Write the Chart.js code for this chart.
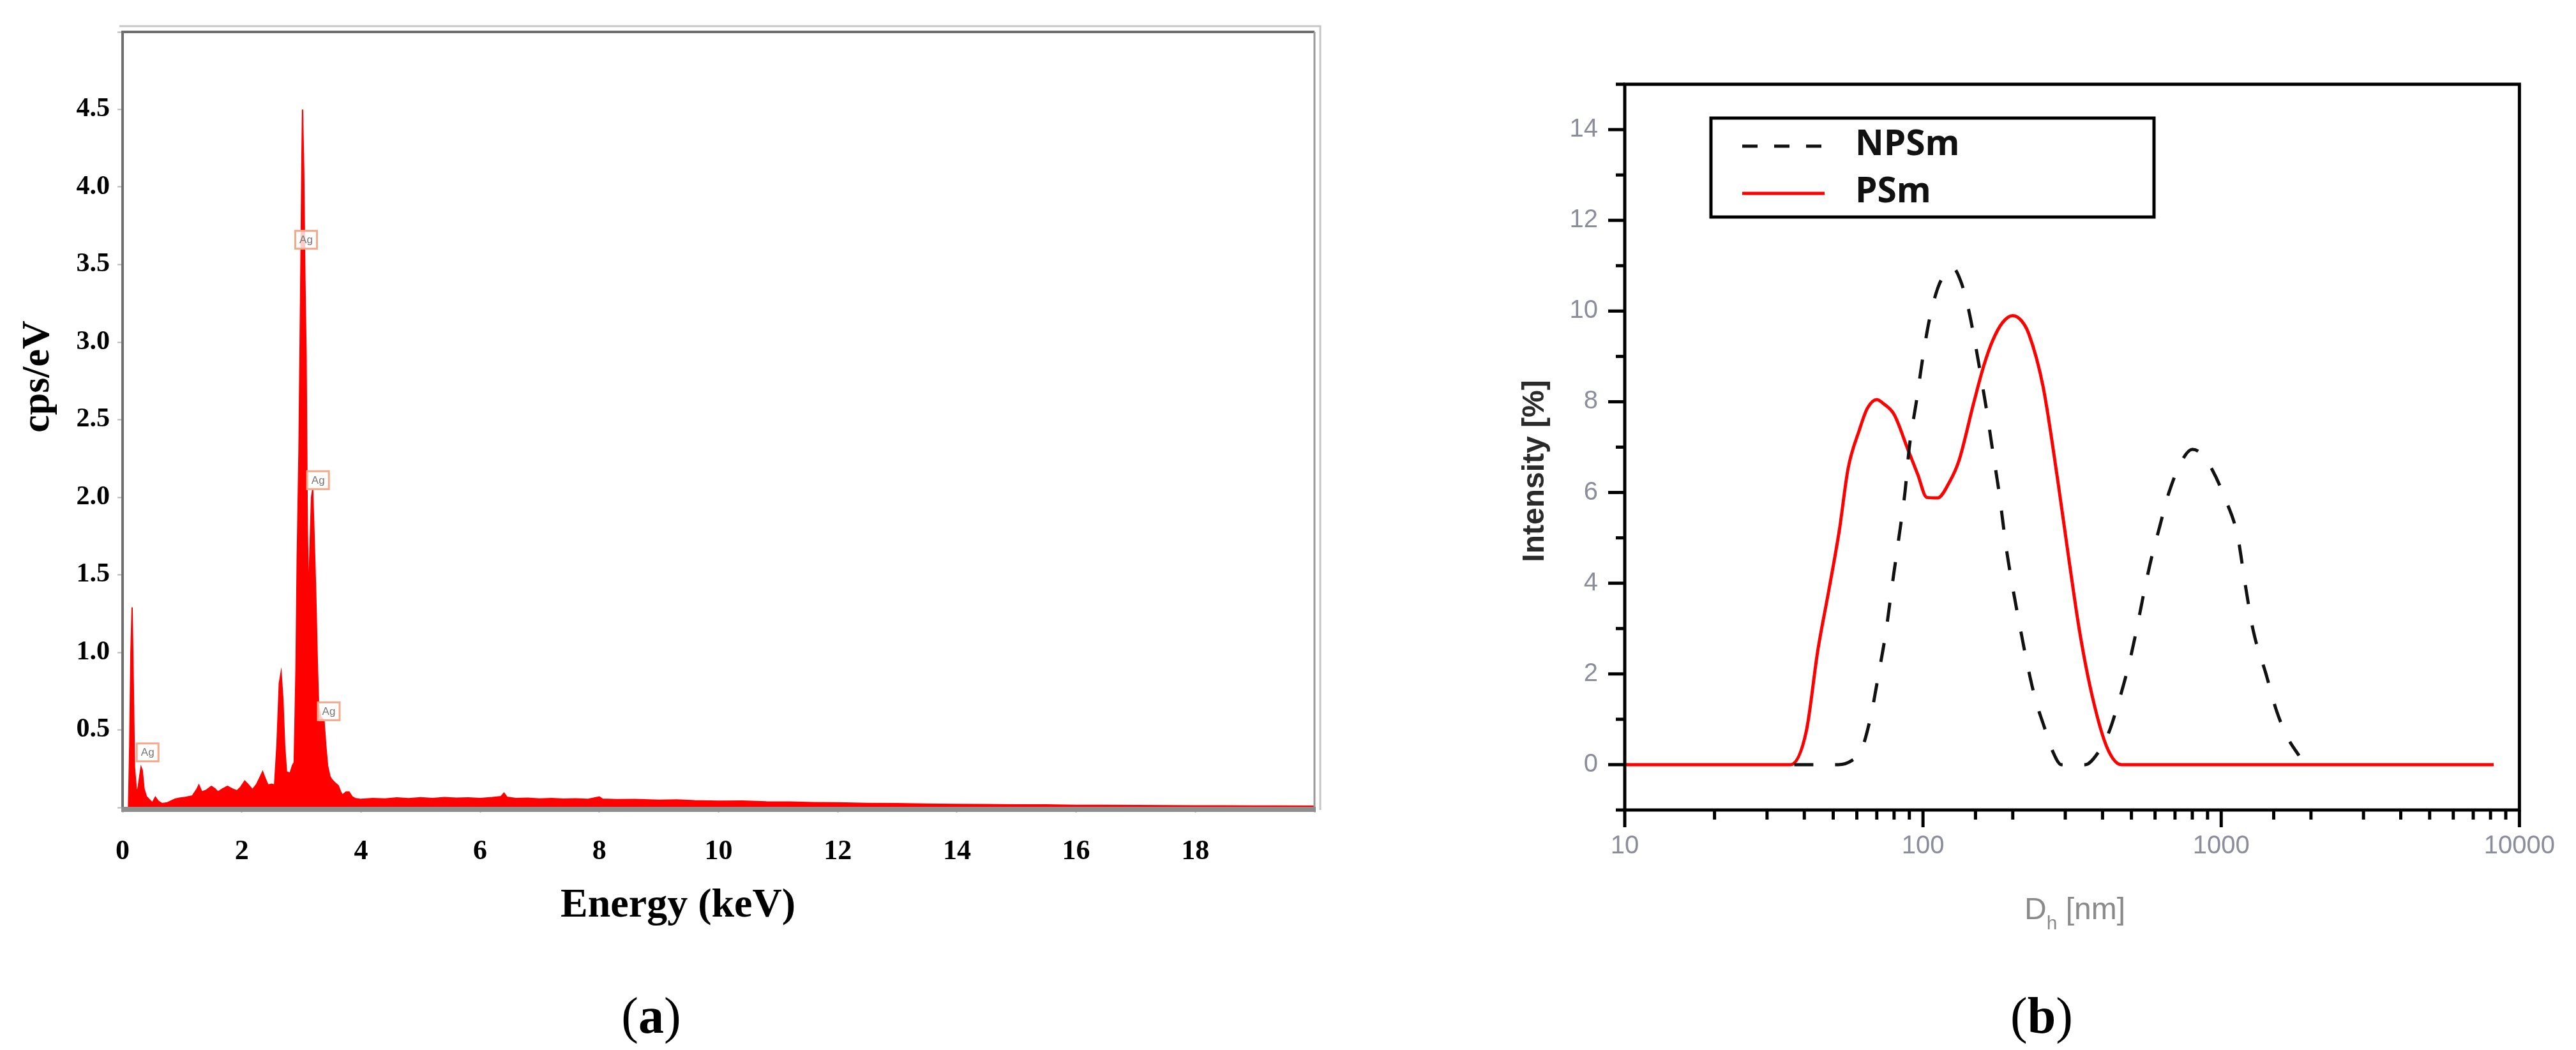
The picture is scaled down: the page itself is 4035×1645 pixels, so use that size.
<!DOCTYPE html>
<html>
<head>
<meta charset="utf-8">
<script src="https://cdn.jsdelivr.net/npm/chart.js@4.4.1/dist/chart.umd.min.js"></script>
<style>
  html, body { margin: 0; padding: 0; background: #fff; }
  body { width: 4035px; height: 1645px; position: relative; overflow: hidden; }
  #wrapA { position: absolute; left: 0; top: 0; width: 2140px; height: 1500px; }
  #wrapB { position: absolute; left: 2200px; top: 0; width: 1835px; height: 1500px; }
  .cap { position: absolute; top: 1541px; width: 200px; text-align: center;
         font-family: "Liberation Serif", serif; font-size: 80px; line-height: 100px; color: #000; }
</style>
</head>
<body>
<div id="wrapA"><canvas id="chartA"></canvas></div>
<div id="wrapB"><canvas id="chartB"></canvas></div>
<div class="cap" style="left:920px">(<b>a</b>)</div>
<div class="cap" style="left:3098px">(<b>b</b>)</div>

<script>
// -------------------------- data (a): EDS spectrum -------------------------------- //
const energyKeV = [0.10, 0.12, 0.14, 0.16, 0.18, 0.20, 0.23, 0.25, 0.28, 0.31, 0.33, 0.36, 0.40, 0.45, 0.50,
  0.55, 0.60, 0.66, 0.75, 0.88, 0.95, 1.05, 1.17, 1.25, 1.28, 1.33, 1.40, 1.49, 1.55, 1.60, 1.68, 1.76,
  1.84, 1.92, 1.98, 2.05, 2.10, 2.18, 2.25, 2.30, 2.35, 2.40, 2.44, 2.50, 2.55, 2.59, 2.63, 2.66, 2.69,
  2.72, 2.75, 2.81, 2.85, 2.88, 2.91, 2.93, 2.96, 2.99, 3.01, 3.02, 3.04, 3.06, 3.08, 3.10, 3.12, 3.14,
  3.17, 3.19, 3.21, 3.24, 3.27, 3.29, 3.33, 3.38, 3.41, 3.44, 3.48, 3.51, 3.56, 3.62, 3.66, 3.69, 3.75,
  3.80, 3.85, 3.90, 4.0, 4.2, 4.4, 4.6, 4.8, 5.0, 5.2, 5.4, 5.6, 5.8, 6.0, 6.2, 6.35, 6.4, 6.45, 6.6,
  6.8, 7.0, 7.2, 7.4, 7.6, 7.8, 8.0, 8.05, 8.3, 8.6, 9.0, 9.3, 9.6, 10.0, 10.4, 10.8, 11.2, 11.6, 12.0,
  12.5, 13.0, 13.5, 14.0, 14.5, 15.0, 15.5, 16.0, 16.5, 17.0, 17.5, 18.0, 18.5, 19.0, 19.5, 20.0];
const countsPerEV = [0, 0.40, 1.00, 1.29, 0.80, 0.26, 0.12, 0.10, 0.18, 0.26, 0.24, 0.12, 0.07, 0.05, 0.03,
  0.066, 0.04, 0.025, 0.03, 0.054, 0.06, 0.065, 0.074, 0.12, 0.144, 0.10, 0.11, 0.136, 0.12, 0.10, 0.12, 0.136,
  0.12, 0.107, 0.13, 0.17, 0.15, 0.115, 0.15, 0.19, 0.23, 0.18, 0.144, 0.15, 0.144, 0.40, 0.80, 0.87, 0.70,
  0.40, 0.23, 0.22, 0.27, 0.29, 0.90, 1.60, 2.30, 3.40, 4.20, 4.50, 4.10, 3.40, 2.90, 1.80, 1.34, 1.60,
  2.00, 2.05, 1.80, 1.40, 0.90, 0.65, 0.58, 0.56, 0.40, 0.27, 0.20, 0.18, 0.16, 0.14, 0.10, 0.08, 0.10,
  0.10, 0.07, 0.058, 0.052, 0.058, 0.055, 0.062, 0.057, 0.063, 0.058, 0.064, 0.060, 0.062, 0.058, 0.064, 0.070, 0.092, 0.066, 0.058,
  0.060, 0.055, 0.058, 0.054, 0.056, 0.052, 0.068, 0.054, 0.050, 0.051, 0.046, 0.048, 0.043, 0.040, 0.041, 0.036, 0.035, 0.031, 0.030,
  0.026, 0.025, 0.022, 0.020, 0.019, 0.016, 0.016, 0.013, 0.013, 0.012, 0.011, 0.010, 0.010, 0.009, 0.009, 0.008];
const agPeakKeV = [0.42, 3.08, 3.28, 3.46];
const agPeakCps = [0.355, 3.66, 2.11, 0.62];

// -------------------------- data (b): DLS size distribution -------------------------------- //
const npsmDiameter = [37, 52, 58, 62, 67, 71, 75, 79, 83, 87, 90, 95, 100, 105, 112, 118, 126, 134, 142, 150,
  157, 164, 171, 180, 190, 200, 212, 224, 238, 256, 272, 291, 350, 385, 421, 450, 489, 519, 547, 580, 622,
  668, 738, 800, 860, 933, 1033, 1135, 1202, 1280, 1413, 1536, 1674, 1823];
const npsmIntensity = [0, 0, 0.1, 0.3, 1.1, 2.0, 2.9, 4.0, 5.0, 6.0, 7.0, 8.0, 9.0, 9.8, 10.5, 10.8, 10.95, 10.65, 10.05, 9.25,
  8.5, 7.75, 6.95, 6.0, 4.8, 3.9, 3.0, 2.2, 1.45, 0.8, 0.3, 0, 0, 0.25, 0.73, 1.32, 2.18, 2.94, 3.7, 4.48, 5.25,
  6.0, 6.7, 6.95, 6.85, 6.5, 5.85, 5.04, 4.0, 2.96, 2.0, 1.17, 0.58, 0.2];
const psmDiameter = [10, 36, 40.6, 44.4, 48.2, 52.4, 56.1, 61.2, 65, 70, 74, 80, 89, 96, 103, 112, 122, 132, 148,
  160, 171, 185, 200, 213, 226, 253, 283, 308, 335, 370, 414, 463, 8200];
const psmIntensity = [0, 0, 0.73, 2.52, 3.8, 5.16, 6.53, 7.38, 7.85, 8.05, 7.95, 7.72, 6.95, 6.4, 5.89, 5.88, 6.2, 6.7, 7.98,
  8.8, 9.34, 9.75, 9.9, 9.8, 9.51, 8.32, 6.27, 4.56, 2.94, 1.49, 0.38, 0, 0];
const seriesNames = ['NPSm', 'PSm'];
const xTickLabelsB = [10, 100, 1000, 10000];
const yTickLabelsB = [0, 2, 4, 6, 8, 10, 12, 14];

// -------------------------- chart (a) -------------------------------- //
const serif = '"Liberation Serif", "Times New Roman", serif';

const edsFrame = {
    id: 'edsFrame',
    afterDatasetsDraw(chart) {
        const ctx = chart.ctx, ca = chart.chartArea;
        const xs = chart.scales.x, ys = chart.scales.y;
        ctx.save();
        // outer light frame
        ctx.strokeStyle = '#c6c6c6';
        ctx.lineWidth = 3;
        ctx.beginPath();
        ctx.moveTo(ca.left - 5, ca.top - 9);
        ctx.lineTo(ca.right + 9, ca.top - 9);
        ctx.lineTo(ca.right + 9, ca.bottom + 4);
        ctx.stroke();
        // inner frame
        ctx.strokeStyle = '#6e6e6e';
        ctx.lineWidth = 4;
        ctx.beginPath();
        ctx.moveTo(ca.left, ca.bottom);
        ctx.lineTo(ca.left, ca.top);
        ctx.lineTo(ca.right, ca.top);
        ctx.stroke();
        ctx.strokeStyle = '#9a9a9a';
        ctx.lineWidth = 3;
        ctx.beginPath();
        ctx.moveTo(ca.right, ca.top);
        ctx.lineTo(ca.right, ca.bottom);
        ctx.stroke();
        ctx.fillStyle = '#8e8e8e';
        ctx.fillRect(ca.left - 2, ca.bottom - 1, ca.right - ca.left + 4, 8);

        // Ag peak markers
        ctx.font = '17px "Liberation Sans", Arial, sans-serif';
        ctx.textAlign = 'center';
        ctx.textBaseline = 'middle';
        agPeakKeV.forEach((e, i) => {
            const px = xs.getPixelForValue(e), py = ys.getPixelForValue(agPeakCps[i]);
            ctx.fillStyle = 'rgba(255,255,255,0.8)';
            ctx.fillRect(px - 17, py - 14, 34, 28);
            ctx.strokeStyle = '#f5a88a';
            ctx.lineWidth = 3;
            ctx.strokeRect(px - 17, py - 14, 34, 28);
            ctx.fillStyle = '#777';
            ctx.fillText('Ag', px, py + 1);
        });

        // axis titles
        ctx.fillStyle = '#000';
        ctx.font = 'bold 64px ' + serif;
        ctx.fillText('Energy (keV)', 1062, 1419);
        ctx.save();
        ctx.translate(60, 590);
        ctx.rotate(-Math.PI / 2);
        ctx.font = 'bold 62px ' + serif;
        ctx.fillText('cps/eV', 0, 0);
        ctx.restore();
        ctx.restore();
    }
};

const ctxA = document.getElementById('chartA');
const chartA = new Chart(ctxA, {
    type: 'line',
    data: {
        datasets: [{
            label: 'EDS',
            data: energyKeV.map((e, i) => ({ x: e, y: countsPerEV[i] })),
            borderColor: '#ff0000',
            backgroundColor: '#ff0000',
            borderWidth: 2,
            fill: 'origin',
            pointRadius: 0,
            tension: 0
        }]
    },
    options: {
        responsive: true,
        maintainAspectRatio: false,
        animation: false,
        devicePixelRatio: 1,
        layout: { padding: { left: 0, top: 50, right: 81, bottom: 0 } },
        plugins: { legend: { display: false }, tooltip: { enabled: false } },
        scales: {
            x: {
                type: 'linear',
                min: 0,
                max: 20,
                afterFit: (s) => { s.height = 235; },
                border: { display: false },
                grid: { drawOnChartArea: false, drawTicks: true, tickLength: 8, tickColor: '#b5b5b5', tickWidth: 2 },
                ticks: {
                    stepSize: 2,
                    autoSkip: false,
                    maxRotation: 0,
                    padding: 35,
                    color: '#000',
                    font: { family: serif, size: 44, weight: 'bold' },
                    callback: (v) => (v < 19 ? String(v) : '')
                }
            },
            y: {
                min: 0,
                max: 5,
                afterFit: (s) => { s.width = 192; },
                border: { display: false },
                grid: { drawOnChartArea: false, drawTicks: true, tickLength: 8, tickColor: '#b5b5b5', tickWidth: 2 },
                ticks: {
                    stepSize: 0.5,
                    padding: 12,
                    color: '#000',
                    font: { family: serif, size: 42, weight: 'bold' },
                    callback: (v) => (v > 0.1 && v < 4.9 ? v.toFixed(1) : '')
                }
            }
        }
    },
    plugins: [edsFrame]
});

// -------------------------- chart (b) -------------------------------- //
const sans = '"Liberation Sans", Arial, sans-serif';
const legendDash = [24, 26];

const dlsFrame = {
    id: 'dlsFrame',
    afterDatasetsDraw(chart) {
        const ctx = chart.ctx, ca = chart.chartArea;
        const xs = chart.scales.x, ys = chart.scales.y;
        ctx.save();
        ctx.strokeStyle = '#000';
        ctx.lineWidth = 5;
        ctx.setLineDash([]);
        ctx.strokeRect(ca.left, ca.top, ca.right - ca.left, ca.bottom - ca.top);

        // y ticks: major every 2, minor every 1
        ys.ticks.forEach((t) => {
            const py = ys.getPixelForValue(t.value);
            const len = (t.value % 2 === 0) ? 26 : 14;
            ctx.beginPath();
            ctx.moveTo(ca.left, py);
            ctx.lineTo(ca.left - len, py);
            ctx.stroke();
        });
        // x ticks on log scale
        xs.ticks.forEach((t) => {
            const px = xs.getPixelForValue(t.value);
            const major = xTickLabelsB.includes(t.value);
            ctx.beginPath();
            ctx.moveTo(px, ca.bottom);
            ctx.lineTo(px, ca.bottom + (major ? 27 : 15));
            ctx.stroke();
        });

        // legend box
        const lx = ca.left + 135, ly = ca.top + 53;
        ctx.lineWidth = 5;
        ctx.strokeRect(lx, ly, 694, 155);
        ctx.font = 'bold 55px "Open Sans", ' + sans;
        ctx.textAlign = 'left';
        ctx.textBaseline = 'middle';
        chart.data.datasets.forEach((ds, i) => {
            const yy = ly + 44 + i * 74;
            ctx.strokeStyle = ds.borderColor;
            ctx.lineWidth = 5;
            ctx.setLineDash(ds.borderDash && ds.borderDash.length ? legendDash : []);
            ctx.beginPath();
            ctx.moveTo(lx + 49, yy);
            ctx.lineTo(lx + 178, yy);
            ctx.stroke();
            ctx.setLineDash([]);
            ctx.fillStyle = '#111';
            ctx.fillText(ds.label, lx + 226, yy - 2);
        });

        // axis titles
        ctx.fillStyle = '#2a2a2a';
        ctx.textAlign = 'center';
        ctx.save();
        ctx.translate(205, 738);
        ctx.rotate(-Math.PI / 2);
        ctx.font = 'bold 48px ' + sans;
        ctx.fillText('Intensity [%]', 0, 0);
        ctx.restore();

        ctx.fillStyle = '#8a8a8a';
        ctx.textAlign = 'left';
        ctx.textBaseline = 'alphabetic';
        ctx.font = '48px ' + sans;
        const wD = ctx.measureText('D').width, wRest = ctx.measureText(' [nm]').width;
        ctx.font = '30px ' + sans;
        const wH = ctx.measureText('h').width;
        let tx = 1050 - (wD + wH + wRest) / 2;
        const base = 1440;
        ctx.font = '48px ' + sans;
        ctx.fillText('D', tx, base);
        tx += wD;
        ctx.font = '30px ' + sans;
        ctx.fillText('h', tx, base + 16);
        tx += wH;
        ctx.font = '48px ' + sans;
        ctx.fillText(' [nm]', tx, base);
        ctx.restore();
    }
};

const ctxB = document.getElementById('chartB');
const chartB = new Chart(ctxB, {
    type: 'line',
    data: {
        datasets: [{
            label: seriesNames[0],
            data: npsmDiameter.map((d, i) => ({ x: d, y: npsmIntensity[i] })),
            borderColor: '#111111',
            borderWidth: 5,
            borderDash: [30, 34],
            pointRadius: 0,
            fill: false,
            cubicInterpolationMode: 'monotone'
        }, {
            label: seriesNames[1],
            data: psmDiameter.map((d, i) => ({ x: d, y: psmIntensity[i] })),
            borderColor: '#ff0000',
            borderWidth: 5,
            pointRadius: 0,
            fill: false,
            cubicInterpolationMode: 'monotone'
        }]
    },
    options: {
        responsive: true,
        maintainAspectRatio: false,
        animation: false,
        devicePixelRatio: 1,
        layout: { padding: { left: 0, top: 132, right: 68, bottom: 0 } },
        plugins: { legend: { display: false }, tooltip: { enabled: false } },
        scales: {
            x: {
                type: 'logarithmic',
                min: 10,
                max: 10000,
                afterFit: (s) => { s.height = 231; },
                border: { display: false },
                grid: { display: false, drawTicks: false },
                ticks: {
                    autoSkip: false,
                    maxRotation: 0,
                    padding: 33,
                    color: '#8b8d9b',
                    font: { family: sans, size: 40 },
                    callback: (v) => (xTickLabelsB.includes(v) ? String(v) : '')
                }
            },
            y: {
                min: -1,
                max: 15,
                afterFit: (s) => { s.width = 345; },
                border: { display: false },
                grid: { display: false, drawTicks: false },
                ticks: {
                    stepSize: 1,
                    autoSkip: false,
                    padding: 42,
                    color: '#8b8d9b',
                    font: { family: sans, size: 40 },
                    callback: (v) => (yTickLabelsB.includes(v) ? String(v) : '')
                }
            }
        }
    },
    plugins: [dlsFrame]
});
</script>
</body>
</html>
